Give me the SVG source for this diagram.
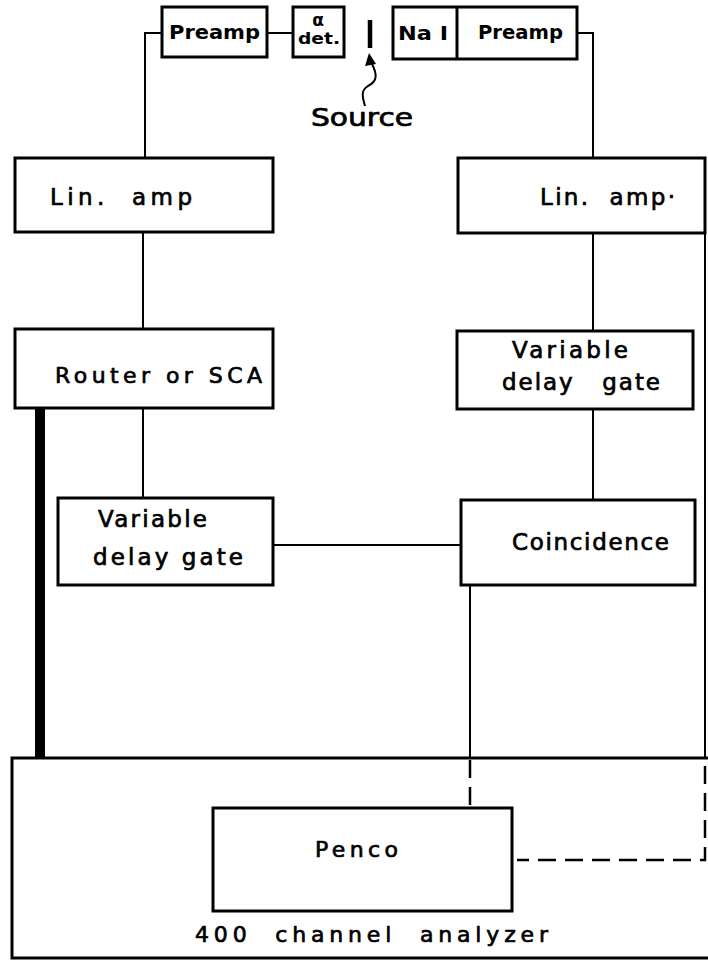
<svg xmlns="http://www.w3.org/2000/svg" width="708" height="960" viewBox="0 0 708 960">
<defs>
<style>
.box{fill:#fff;stroke:#000;stroke-width:3}
.ln{fill:none;stroke:#000;stroke-width:2}
.dash{fill:none;stroke:#000;stroke-width:2.5;stroke-dasharray:18 9}
text{font-family:"DejaVu Sans","Liberation Sans",Arial,sans-serif;fill:#000;white-space:pre;stroke:#000;stroke-width:0.7}
.b{font-weight:bold;stroke-width:0}
</style>
</defs>
<rect width="708" height="960" fill="#fff"/>
<g id="connectors">
<polyline class="ln" points="162,33 145,33 145,158"/>
<line class="ln" x1="267" y1="33" x2="293" y2="33"/>
<polyline class="ln" points="577,33 593,33 593,158"/>
<line class="ln" x1="143" y1="232" x2="143" y2="329"/>
<line class="ln" x1="143" y1="408" x2="143" y2="498"/>
<line class="ln" x1="593" y1="233" x2="593" y2="331"/>
<line class="ln" x1="593" y1="409" x2="593" y2="500"/>
<line class="ln" x1="273" y1="545" x2="461" y2="545"/>
<line x1="40" y1="408" x2="40" y2="758" stroke="#000" stroke-width="10"/>
<line class="ln" x1="470" y1="585" x2="470" y2="758"/>
<line class="ln" x1="705" y1="233" x2="705" y2="758"/>
<line class="dash" x1="470" y1="760" x2="470" y2="808" stroke-dasharray="26 8"/>
<polyline class="dash" points="705,766 705,860 517,860"/>
<path class="ln" d="M365,106 C362,96 361,90 368,86 C378,81 377,74 372,64" stroke-width="1.5"/>
<polygon points="369,53 365,66 376,64" fill="#000"/>
</g>
<g id="source">
<line x1="370" y1="20" x2="370" y2="48" stroke="#000" stroke-width="4.5"/>
<text x="311" y="126" font-size="24" textLength="102" lengthAdjust="spacingAndGlyphs">Source</text>
</g>
<g id="preamp-left">
<rect class="box" x="162" y="7" width="105" height="50"/>
<text class="b" x="169" y="39" font-size="20" textLength="91" lengthAdjust="spacingAndGlyphs">Preamp</text>
</g>
<g id="alpha-det">
<rect class="box" x="293" y="7" width="51" height="50"/>
<text class="b" x="318" y="26" font-size="17" text-anchor="middle">α</text>
<text class="b" x="298" y="44" font-size="15" textLength="42" lengthAdjust="spacingAndGlyphs">det.</text>
</g>
<g id="nai-preamp">
<rect class="box" x="393" y="7" width="184" height="52"/>
<line x1="457" y1="7" x2="457" y2="59" stroke="#000" stroke-width="3"/>
<text class="b" x="398" y="40" font-size="20" textLength="50" lengthAdjust="spacingAndGlyphs">Na I</text>
<text class="b" x="478" y="39" font-size="20" textLength="85" lengthAdjust="spacingAndGlyphs">Preamp</text>
</g>
<g id="linamp-left">
<rect class="box" x="15" y="158" width="258" height="74"/>
<text x="50" y="205" font-size="23" textLength="142" lengthAdjust="spacing">Lin.  amp</text>
</g>
<g id="linamp-right">
<rect class="box" x="458" y="158" width="247" height="75"/>
<text x="540" y="205" font-size="23" textLength="135" lengthAdjust="spacing">Lin.  amp·</text>
</g>
<g id="router">
<rect class="box" x="15" y="329" width="258" height="79"/>
<text x="55" y="383" font-size="22" textLength="207" lengthAdjust="spacing">Router or SCA</text>
</g>
<g id="vdg-left">
<rect class="box" x="58" y="498" width="215" height="87"/>
<text x="98" y="527" font-size="23" textLength="109" lengthAdjust="spacing">Variable</text>
<text x="93" y="565" font-size="23" textLength="150" lengthAdjust="spacing">delay gate</text>
</g>
<g id="vdg-right">
<rect class="box" x="457" y="331" width="236" height="78"/>
<text x="512" y="358" font-size="23" textLength="116" lengthAdjust="spacing">Variable</text>
<text x="502" y="390" font-size="23" textLength="158" lengthAdjust="spacing">delay   gate</text>
</g>
<g id="coincidence">
<rect class="box" x="461" y="500" width="234" height="85"/>
<text x="512" y="550" font-size="23" textLength="157" lengthAdjust="spacing">Coincidence</text>
</g>
<g id="analyzer">
<rect x="12" y="758" width="720" height="200" fill="none" stroke="#000" stroke-width="3"/>
<text x="195" y="942" font-size="22" textLength="353" lengthAdjust="spacing">400  channel  analyzer</text>
</g>
<g id="penco">
<rect class="box" x="213" y="808" width="299" height="103"/>
<text x="315" y="857" font-size="22" textLength="83" lengthAdjust="spacing">Penco</text>
</g>
</svg>
